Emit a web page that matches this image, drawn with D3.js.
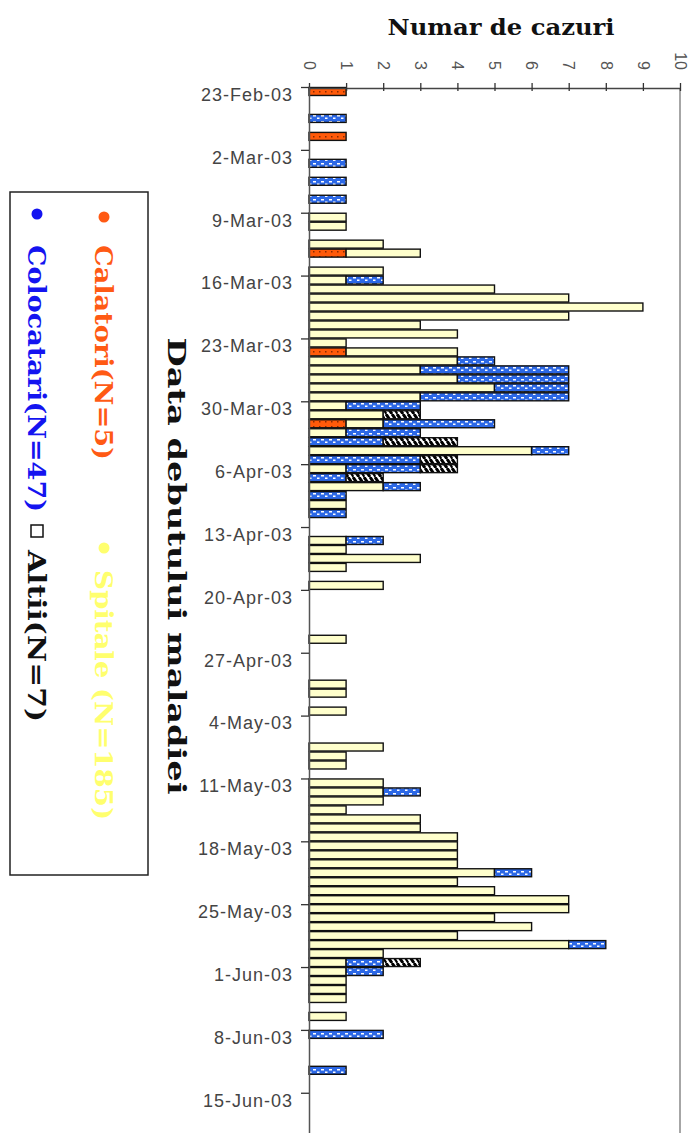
<!DOCTYPE html>
<html>
<head>
<meta charset="utf-8">
<script src="https://cdn.jsdelivr.net/npm/d3@7"></script>
<style>
body{margin:0;background:#fff}
svg{display:block}
</style>
</head>
<body>
<svg id="graph"></svg>
<script>
//onset dates that have cases
var days = [
  "2003-02-23","2003-02-26","2003-02-28","2003-03-03","2003-03-05","2003-03-07",
  "2003-03-09","2003-03-10","2003-03-12","2003-03-13","2003-03-15","2003-03-16",
  "2003-03-17","2003-03-18","2003-03-19","2003-03-20","2003-03-21","2003-03-22",
  "2003-03-23","2003-03-24","2003-03-25","2003-03-26","2003-03-27","2003-03-28",
  "2003-03-29","2003-03-30","2003-03-31","2003-04-01","2003-04-02","2003-04-03",
  "2003-04-04","2003-04-05","2003-04-06","2003-04-07","2003-04-08","2003-04-09",
  "2003-04-10","2003-04-11","2003-04-14","2003-04-15","2003-04-16","2003-04-17",
  "2003-04-19","2003-04-25","2003-04-30","2003-05-01","2003-05-03","2003-05-07",
  "2003-05-08","2003-05-09","2003-05-11","2003-05-12","2003-05-13","2003-05-14",
  "2003-05-15","2003-05-16","2003-05-17","2003-05-18","2003-05-19","2003-05-20",
  "2003-05-21","2003-05-22","2003-05-23","2003-05-24","2003-05-25","2003-05-26",
  "2003-05-27","2003-05-28","2003-05-29","2003-05-30","2003-05-31","2003-06-01",
  "2003-06-02","2003-06-03","2003-06-04","2003-06-06","2003-06-08","2003-06-12"
]

//series, one value per day above
var calatori = [
  1,0,1,0,0,0, 0,0,0,1,0,0, 0,0,0,0,0,0, 0,1,0,0,0,0, 0,0,0,1,0,0,
  0,0,0,0,0,0, 0,0,0,0,0,0, 0,0,0,0,0,0, 0,0,0,0,0,0, 0,0,0,0,0,0,
  0,0,0,0,0,0, 0,0,0,0,0,0, 0,0,0,0,0,0
]
var spitale = [
  0,0,0,0,0,0, 1,1,2,2,2,1, 5,7,9,7,3,4, 1,3,4,3,4,5, 3,1,2,1,1,0,
  6,0,1,0,2,0, 1,0,1,1,3,1, 2,1,1,1,1,2, 1,1,2,2,2,1, 3,3,4,4,4,4,
  5,4,5,7,7,5, 6,4,7,2,1,1, 1,1,1,1,0,0
]
var colocatari = [
  0,1,0,1,1,1, 0,0,0,0,0,1, 0,0,0,0,0,0, 0,0,1,4,3,2, 4,2,0,3,2,2,
  1,3,2,1,1,1, 0,1,1,0,0,0, 0,0,0,0,0,0, 0,0,0,1,0,0, 0,0,0,0,0,0,
  1,0,0,0,0,0, 0,0,1,0,1,1, 0,0,0,0,2,1
]
var altii = [
  0,0,0,0,0,0, 0,0,0,0,0,0, 0,0,0,0,0,0, 0,0,0,0,0,0, 0,0,1,0,0,2,
  0,1,1,1,0,0, 0,0,0,0,0,0, 0,0,0,0,0,0, 0,0,0,0,0,0, 0,0,0,0,0,0,
  0,0,0,0,0,0, 0,0,0,0,1,0, 0,0,0,0,0,0
]

var xTicks = [0,1,2,3,4,5,6,7,8,9,10]
var keys = ["calatori","spitale","colocatari","altii"]

var parseDate = d3.utcParse("%Y-%m-%d")
var data = days.map(function(d,i){
  return {
    date: parseDate(d),
    calatori: calatori[i],
    spitale: spitale[i],
    colocatari: colocatari[i],
    altii: altii[i]
  }
})

var svg = d3.select('#graph')
  .attr('width',694)
  .attr('height',1133)

//scales
var x = d3.scaleLinear().domain([0,10]).range([309,680])
var y = d3.scaleUtc()
  .domain([parseDate("2003-02-23"), parseDate("2003-06-20")])
  .range([87, 87 + 117*8.98])

//patterns
var defs = svg.append('defs')

var pOr = defs.append('pattern').attr('id','pCal')
  .attr('patternUnits','userSpaceOnUse').attr('width',6).attr('height',5)
pOr.append('rect').attr('width',6).attr('height',5).attr('fill','#ff5a0a')
pOr.append('rect').attr('x',1).attr('y',1).attr('width',1.5).attr('height',1.5).attr('fill','#8a2a00')

var pBl = defs.append('pattern').attr('id','pCol')
  .attr('patternUnits','userSpaceOnUse').attr('width',8).attr('height',6)
pBl.append('rect').attr('width',8).attr('height',6).attr('fill','#2c68e6')
pBl.append('rect').attr('x',1).attr('y',1).attr('width',3).attr('height',1.5).attr('fill','#ffffff')
pBl.append('rect').attr('x',5).attr('y',3.5).attr('width',2.5).attr('height',1.5).attr('fill','#ffffff')

var pBk = defs.append('pattern').attr('id','pAlt')
  .attr('patternUnits','userSpaceOnUse').attr('width',11).attr('height',9)
pBk.append('rect').attr('width',11).attr('height',9).attr('fill','#ffffff')
pBk.append('path').attr('d','M1,0 L7,9 M-5,0 L1,9 M7,0 L13,9')
  .attr('stroke','#000').attr('stroke-width',3)

var fills = {
  calatori: 'url(#pCal)',
  spitale: '#ffffcc',
  colocatari: 'url(#pCol)',
  altii: 'url(#pAlt)'
}

//frame
svg.append('line')
  .attr('x1',680).attr('x2',680).attr('y1',88).attr('y2',1133)
  .attr('stroke','#888').attr('stroke-width',1.5)

//bars
var series = d3.stack().keys(keys)(data)

svg.append('g').selectAll('g')
  .data(series)
  .enter()
  .append('g')
  .attr('fill', function(s){ return fills[s.key] })
  .selectAll('rect')
  .data(function(s){ return s.filter(function(d){ return d[1] > d[0] }) })
  .enter()
  .append('rect')
  .attr('x', function(d){ return x(d[0]) })
  .attr('width', function(d){ return x(d[1]) - x(d[0]) })
  .attr('y', function(d){ return y(d.data.date) + 0.5 })
  .attr('height', function(d){ return y(d3.utcDay.offset(d.data.date,1)) - y(d.data.date) - 1 })
  .attr('stroke','#111')
  .attr('stroke-width',1.4)

//top axis (numbers)
var xaxis = svg.append('g')
  .attr('transform','translate(0,88)')
  .call(d3.axisTop(x).tickValues(xTicks).tickSizeOuter(0).tickFormat(d3.format('d')))
xaxis.select('.domain').attr('stroke','#444').attr('stroke-width',1.3)
xaxis.selectAll('.tick line').attr('y1',3).attr('y2',-5).attr('stroke','#333').attr('stroke-width',1.3)
xaxis.selectAll('.tick text')
  .attr('transform','rotate(90)')
  .attr('x',-18).attr('y',0).attr('dy','0.36em')
  .attr('text-anchor','end')
  .style('font-family','"Liberation Sans", Arial, sans-serif')
  .style('font-size','16px')
  .attr('fill','#555')

//left axis (dates)
var yaxis = svg.append('g')
  .attr('transform','translate(309,0)')
  .call(d3.axisLeft(y)
    .ticks(d3.utcWeek.every(1))
    .tickFormat(d3.utcFormat('%-d-%b-%y'))
    .tickSize(8).tickPadding(8).tickSizeOuter(0))
yaxis.select('.domain').attr('stroke','#555').attr('stroke-width',1.5)
yaxis.selectAll('.tick line').attr('stroke','#333').attr('stroke-width',1.3)
yaxis.selectAll('.tick text')
  .attr('dy','0.74em')
  .style('font-family','"Liberation Sans", Arial, sans-serif')
  .style('font-size','18px')
  .style('letter-spacing','1px')
  .attr('fill','#444')

//titles
svg.append('text')
  .attr('x',501).attr('y',35)
  .attr('text-anchor','middle')
  .attr('textLength',227)
  .attr('lengthAdjust','spacingAndGlyphs')
  .style('font-family','"DejaVu Serif", serif')
  .style('font-weight','bold')
  .style('font-size','22px')
  .attr('fill','#111')
  .text('Numar de cazuri')

svg.append('text')
  .attr('transform','translate(176,566) rotate(90)')
  .attr('text-anchor','middle')
  .attr('dy','0.35em')
  .attr('textLength',457)
  .attr('lengthAdjust','spacingAndGlyphs')
  .style('font-family','"DejaVu Serif", serif')
  .style('font-weight','bold')
  .style('font-size','24px')
  .attr('fill','#111')
  .text('Data debutului maladiei')

//legend
var legend = svg.append('g')
legend.append('rect')
  .attr('x',10).attr('y',192).attr('width',138).attr('height',683)
  .attr('fill','#fff').attr('stroke','#222').attr('stroke-width',1.5)

var legendItems = [
  {label:'Calatori(N=5)', color:'#ff5a14', cx:104, cy:217, ty:245, len:215, mark:'dot'},
  {label:'Spitale (N=185)', color:'#ffff6e', cx:104, cy:548, ty:570, len:250, mark:'dot'},
  {label:'Colocatari(N=47)', color:'#1414f0', cx:37, cy:214, ty:245, len:267, mark:'dot'},
  {label:'Altii(N=7)', color:'#111', cx:37, cy:531, ty:550, len:172, mark:'box'}
]

legendItems.forEach(function(d){
  if (d.mark == 'dot') {
    legend.append('circle').attr('cx',d.cx).attr('cy',d.cy).attr('r',5.5).attr('fill',d.color)
  } else {
    legend.append('rect').attr('x',d.cx-6).attr('y',d.cy-6).attr('width',12).attr('height',12)
      .attr('fill','#fff').attr('stroke','#111').attr('stroke-width',1.5)
  }
  legend.append('text')
    .attr('transform','translate('+d.cx+','+d.ty+') rotate(90)')
    .attr('dy','0.35em')
    .attr('textLength',d.len)
    .attr('lengthAdjust','spacingAndGlyphs')
    .style('font-family','"DejaVu Serif", serif')
    .style('font-weight','bold')
    .style('font-size','25px')
    .attr('fill',d.color)
    .text(d.label)
})
</script>
</body>
</html>
